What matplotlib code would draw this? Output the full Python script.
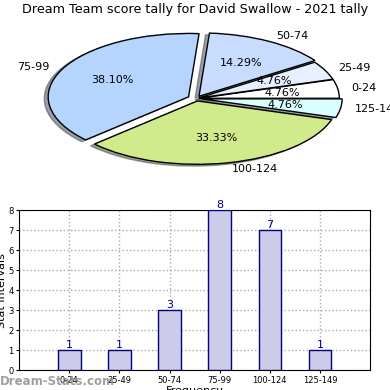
import matplotlib
matplotlib.use("Agg")
import matplotlib.pyplot as plt

intervals = ['0-24', '25-49', '50-74', '75-99', '100-124', '125-149']
counts = [1, 1, 3, 8, 7, 1]
slice_colors = ['#ffffff', '#e8efff', '#c8dcff', '#b5d5ff', '#d1ea8c', '#d9ffff']
explode = [0.02, 0.02, 0.04, 0.06, 0.04, 0.04]

fig = plt.figure(figsize=(3.9, 3.9), dpi=100)

fig.text(0.5, 0.975, 'Dream Team score tally for David Swallow - 2021 tally',
         ha='center', va='center', fontsize=9.2)

# pie on top, squashed into an ellipse
ax1 = fig.add_axes([0.143, 0.585, 0.72, 0.325])
ax1.pie(counts, labels=intervals, colors=slice_colors, explode=explode,
        autopct='%1.2f%%', shadow=True, startangle=0,
        wedgeprops={'edgecolor': 'black', 'linewidth': 1.0},
        textprops={'fontsize': 8})
ax1.set_aspect('auto')
ax1.set_xlim(-1, 1)
ax1.set_ylim(-1, 1)
ax1.axis('off')

# bars below
ax2 = fig.add_axes([0.049, 0.051, 0.9, 0.41])
pos = list(range(1, len(intervals) + 1))
bars = ax2.bar(pos, counts, width=0.45, color='#ccccea', edgecolor='#000080', linewidth=1.0, zorder=3)
for b, v in zip(bars, counts):
    ax2.text(b.get_x() + b.get_width() / 2, v, str(v), ha='center', va='bottom',
             color='#000080', fontsize=8, zorder=4)
ax2.set_xlim(0, 7)
ax2.set_ylim(0, 8)
ax2.set_xticks(pos)
ax2.set_xticklabels(intervals, fontsize=6)
ax2.set_yticks(range(0, 9))
ax2.tick_params(axis='y', labelsize=6, length=2, pad=2)
ax2.tick_params(axis='x', length=2, pad=2)
ax2.grid(True, linestyle=':', color='#aaaaaa', linewidth=1.0, zorder=0)
ax2.set_ylabel('Stat Intervals', fontsize=8, labelpad=1)
ax2.set_xlabel('Frequency', fontsize=8, labelpad=1)

fig.text(0.0, 0.022, 'Dream-Stats.com', fontsize=8.5, color='#888888', alpha=0.8,
         ha='left', va='center', fontweight='bold')

fig.savefig('out.png', dpi=100)
